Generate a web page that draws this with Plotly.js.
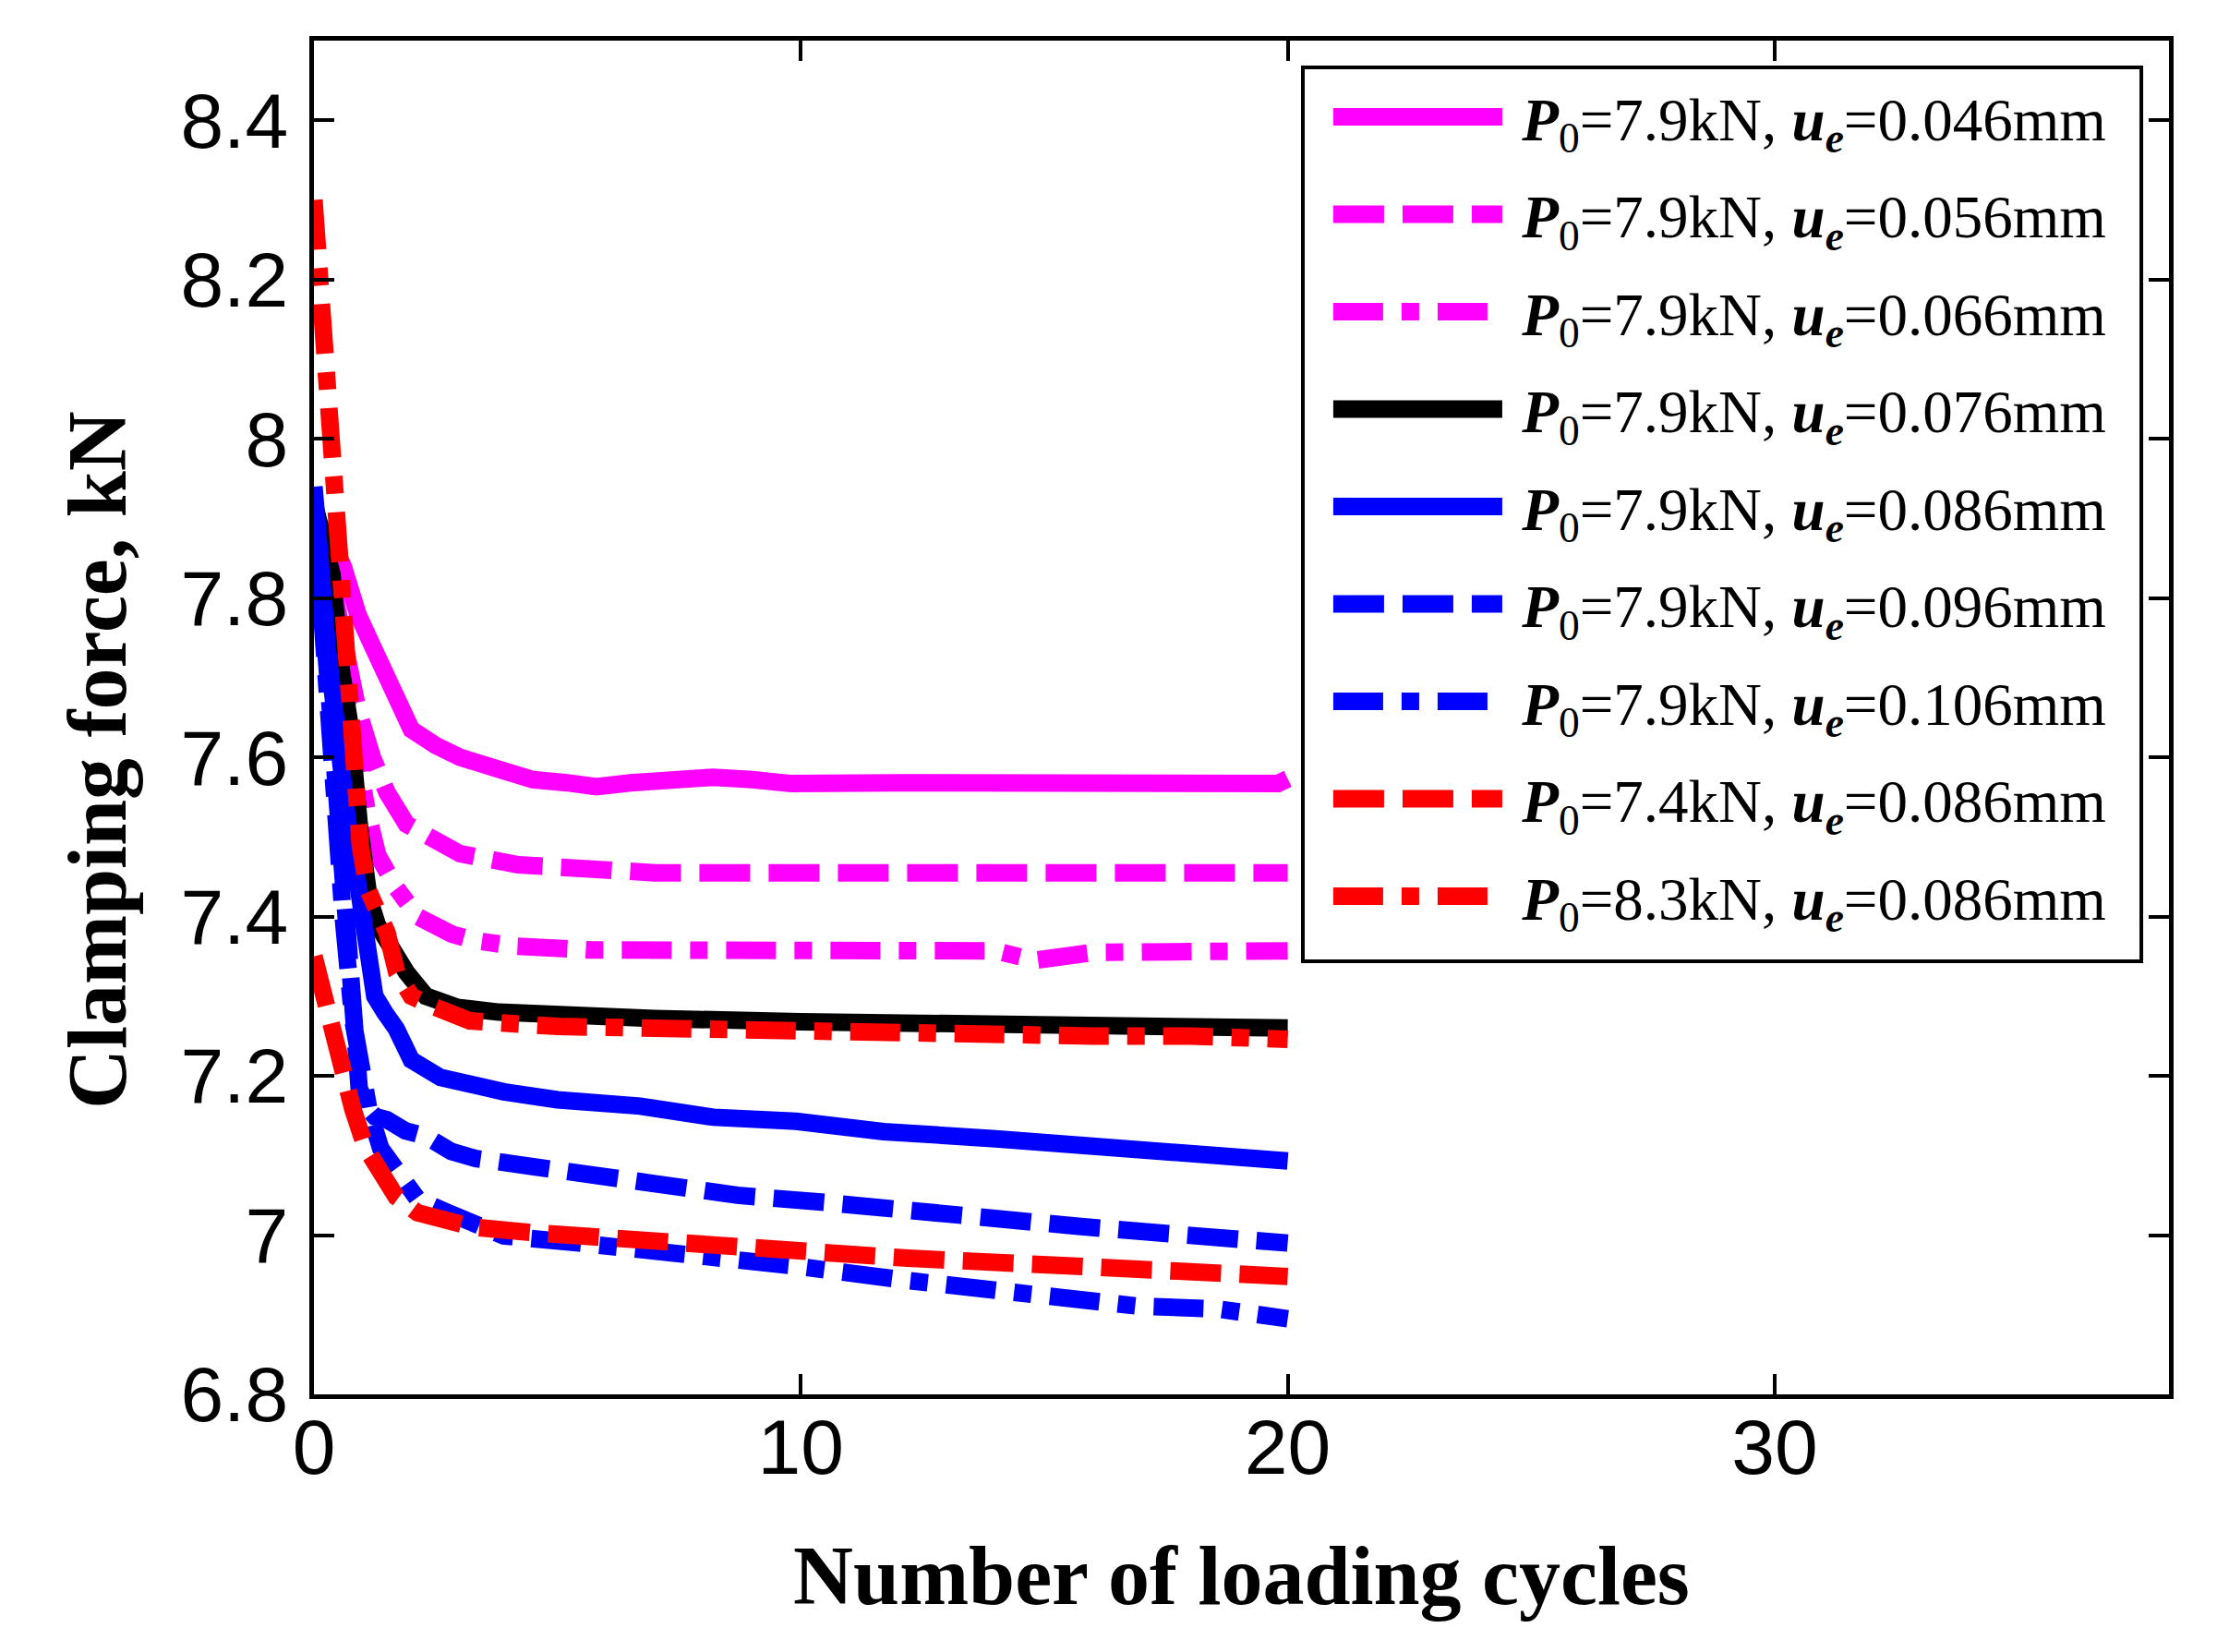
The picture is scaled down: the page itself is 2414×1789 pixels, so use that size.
<!DOCTYPE html>
<html>
<head>
<meta charset="utf-8">
<script src="https://cdn.plot.ly/plotly-3.0.1.min.js"></script>
<style>
  html, body { margin: 0; padding: 0; background: #fff; }
  #chart { width: 2414px; height: 1789px; }
</style>
</head>
<body>
<div id="chart"></div>
<script>
    'use strict';

    // clamping force (kN) against number of loading cycles
    const x046 = [0, 0.3, 0.6, 0.9, 1.2, 1.6, 2.0, 2.5, 3.0, 3.8, 4.5, 5.2, 5.8, 6.5, 7.2, 8.2, 9.0, 9.8, 12, 14, 16, 18, 19.8, 20];
    const y046 = [7.90, 7.88, 7.84, 7.78, 7.74, 7.69, 7.635, 7.615, 7.60, 7.585, 7.572, 7.568, 7.563, 7.568, 7.573, 7.575, 7.572, 7.567, 7.568, 7.568, 7.566, 7.567, 7.567, 7.573];

    const x056 = [0, 0.3, 0.6, 0.9, 1.2, 1.5, 1.9, 2.5, 3.0, 4.2, 5.5, 7, 9, 11, 12.5, 14, 16, 18, 20];
    const y056 = [7.90, 7.84, 7.75, 7.66, 7.60, 7.556, 7.516, 7.496, 7.479, 7.465, 7.458, 7.455, 7.455, 7.455, 7.46, 7.455, 7.455, 7.455, 7.455];

    const x066 = [0, 0.3, 0.6, 0.9, 1.1, 1.31, 1.69, 2.13, 2.83, 3.3, 4.1, 5.7, 8, 10, 12, 14, 14.8, 15.2, 16, 18, 20];
    const y066 = [7.90, 7.82, 7.70, 7.58, 7.53, 7.477, 7.436, 7.40, 7.378, 7.37, 7.363, 7.358, 7.357, 7.357, 7.357, 7.357, 7.345, 7.347, 7.355, 7.356, 7.357];

    const x076 = [0, 0.2, 0.37, 0.56, 0.75, 0.93, 1.13, 1.3, 1.56, 1.9, 2.3, 2.95, 3.8, 4.8, 7, 10, 13, 16, 18, 20];
    const y076 = [7.92, 7.88, 7.83, 7.71, 7.636, 7.516, 7.423, 7.39, 7.36, 7.33, 7.30, 7.286, 7.28, 7.277, 7.272, 7.268, 7.265, 7.265, 7.264, 7.26];

    const x086 = [0, 0.15, 0.28, 0.4, 0.5, 0.69, 0.88, 1.05, 1.25, 1.45, 1.69, 2.0, 2.6, 3.9, 5, 6.7, 8.2, 9.9, 11.7, 14, 15.7, 17.8, 20];
    const y086 = [7.94, 7.80, 7.734, 7.673, 7.60, 7.52, 7.45, 7.37, 7.30, 7.28, 7.259, 7.22, 7.198, 7.18, 7.17, 7.162, 7.148, 7.143, 7.13, 7.121, 7.112, 7.10, 7.093];

    const x096 = [0, 0.15, 0.3, 0.45, 0.6, 0.75, 0.88, 0.93, 1.1, 1.25, 1.5, 1.88, 2.3, 2.82, 3.33, 4.5, 5.78, 7, 8.7, 10.5, 12.2, 14, 15.7, 17.5, 20];
    const y096 = [7.93, 7.80, 7.68, 7.56, 7.44, 7.32, 7.229, 7.184, 7.16, 7.149, 7.145, 7.131, 7.124, 7.105, 7.096, 7.085, 7.074, 7.066, 7.05, 7.041, 7.03, 7.02, 7.011, 7.002, 6.99];

    const x106 = [0, 0.15, 0.3, 0.45, 0.6, 0.8, 1.0, 1.13, 1.37, 1.63, 1.75, 2.13, 2.76, 3.9, 5.45, 7.0, 8.2, 9.9, 12.2, 14.6, 16.9, 18.6, 20];
    const y106 = [7.92, 7.78, 7.64, 7.52, 7.40, 7.27, 7.19, 7.157, 7.109, 7.088, 7.074, 7.045, 7.028, 6.999, 6.99, 6.981, 6.97, 6.961, 6.943, 6.925, 6.911, 6.907, 6.895];

    const xP74 = [0, 0.12, 0.37, 0.5, 0.69, 0.8, 1.06, 1.31, 1.69, 2.13, 3.26, 4.5, 6, 8.2, 10, 12.2, 14.6, 16.9, 20];
    const yP74 = [7.35, 7.32, 7.269, 7.233, 7.19, 7.158, 7.11, 7.083, 7.048, 7.028, 7.01, 7.003, 6.997, 6.984, 6.979, 6.971, 6.964, 6.959, 6.948];

    const xP83 = [0, 0.1, 0.2, 0.25, 0.35, 0.45, 0.55, 0.65, 0.75, 0.88, 0.95, 1.1, 1.5, 1.7, 2.0, 2.5, 3.2, 5, 8.2, 12, 16, 18, 20];
    const yP83 = [8.30, 8.21, 8.15, 8.095, 8.03, 7.92, 7.80, 7.68, 7.615, 7.55, 7.49, 7.435, 7.38, 7.33, 7.30, 7.286, 7.269, 7.262, 7.257, 7.255, 7.25, 7.25, 7.246];

    // legend labels: initial clamping force P0 (kN) and amplitude ue (mm)
    const p0Labels = ['7.9', '7.9', '7.9', '7.9', '7.9', '7.9', '7.9', '7.4', '8.3'];
    const ueLabels = ['0.046', '0.056', '0.066', '0.076', '0.086', '0.096', '0.106', '0.086', '0.086'];

    const xTicks = [0, 10, 20, 30];
    const yTicks = [6.8, 7, 7.2, 7.4, 7.6, 7.8, 8, 8.2, 8.4];

    const DASH = '55px,20px';
    const DASHDOT = '54px,20px,19px,20px';
    const LINE_W = 19;
    const SERIF = 'Liberation Serif, Times New Roman, serif';

    const styles = [
        {color: '#ff00ff', dash: 'solid'},
        {color: '#ff00ff', dash: DASH},
        {color: '#ff00ff', dash: DASHDOT},
        {color: '#000000', dash: 'solid'},
        {color: '#0000ff', dash: 'solid'},
        {color: '#0000ff', dash: DASH},
        {color: '#0000ff', dash: DASHDOT},
        {color: '#ff0000', dash: DASH},
        {color: '#ff0000', dash: DASHDOT}
    ];

    const xs = [x046, x056, x066, x076, x086, x096, x106, xP74, xP83];
    const ys = [y046, y056, y066, y076, y086, y096, y106, yP74, yP83];

    function label(p0, ue) {
        // leading no-break space opens the gap between sample line and text
        return '\u00a0<b><i>P</i></b><sub>0</sub>=' + p0 + 'kN, <b><i>u</i></b><sub><b><i>e</i></b></sub>=' + ue + 'mm';
    }

    const data = xs.map((x, i) => ({
        type: 'scatter',
        mode: 'lines',
        x: x,
        y: ys[i],
        name: label(p0Labels[i], ueLabels[i]),
        legendgroup: 'g' + i,
        line: {color: styles[i].color, width: LINE_W, dash: styles[i].dash}
    }));

    const axisCommon = {
        showline: true,
        linecolor: '#000',
        linewidth: 5,
        mirror: 'ticks',
        ticks: 'inside',
        ticklen: 22,
        tickwidth: 4,
        tickcolor: '#000',
        showgrid: false,
        zeroline: false,
        tickfont: {family: 'Liberation Sans, Arial, sans-serif', size: 84, color: '#000'}
    };

    const layout = {
        width: 2414,
        height: 1789,
        margin: {l: 340, r: 65, t: 44, b: 279},
        paper_bgcolor: '#fff',
        plot_bgcolor: '#fff',
        showlegend: true,
        xaxis: Object.assign({}, axisCommon, {
            range: [0, 38.1],
            tickvals: xTicks,
            ticklabelstandoff: -20,
            title: {
                text: 'Number of loading cycles',
                font: {family: SERIF, size: 90, color: '#000', weight: 'bold'},
                standoff: 63
            }
        }),
        yaxis: Object.assign({}, axisCommon, {
            range: [6.8, 8.5],
            tickvals: yTicks,
            ticklabelstandoff: 6
        }),
        annotations: [{
            // y title sits a little below the middle of the axis in the original
            text: '<b>Clamping force, kN</b>',
            xref: 'paper', yref: 'paper',
            x: -0.117, y: 0.4686,
            xanchor: 'center', yanchor: 'middle',
            textangle: -90,
            showarrow: false,
            font: {family: SERIF, size: 90, color: '#000'}
        }],
        shapes: [{
            // legend frame
            type: 'rect',
            xref: 'paper', yref: 'paper',
            x0: 0.5331, x1: 0.9851, y0: 0.3199, y1: 0.9802,
            fillcolor: '#fff',
            line: {color: '#000', width: 4},
            layer: 'above'
        }],
        legend: {
            x: 0.547,
            y: 0.977,
            xanchor: 'left',
            yanchor: 'top',
            bgcolor: 'rgba(0,0,0,0)',
            borderwidth: 0,
            itemwidth: 183,
            tracegroupgap: 18,
            font: {family: SERIF, size: 65, color: '#000'}
        }
    };

    Plotly.newPlot('chart', data, layout, {staticPlot: true}).then(gd => {
        // plotly caps legend sample width; the original uses the full line width
        gd.querySelectorAll('.legendlines path').forEach(p => {
            p.style.strokeWidth = LINE_W + 'px';
        });
    });
</script>
</body>
</html>
